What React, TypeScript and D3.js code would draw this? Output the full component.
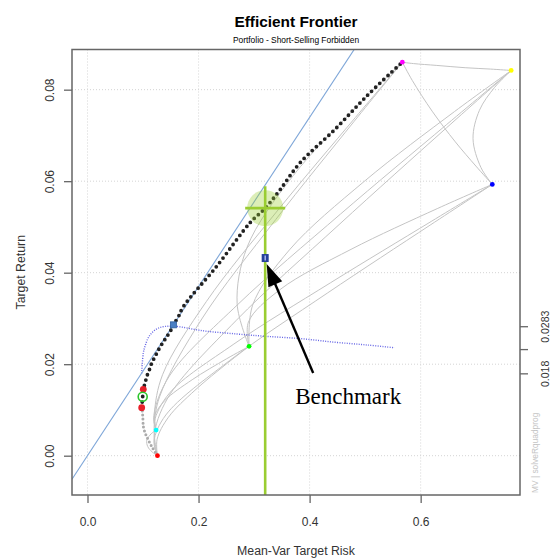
import React, { useEffect, useRef } from 'react';
import * as d3 from 'd3';

const WIDTH = 555;
const HEIGHT = 558;

// single assets (risk, return) - rainbow(6) colours
const assetColors = ['#ff0000', '#ffff00', '#00ff00', '#00ffff', '#0000ff', '#ff00ff'];
const assetRisk = [0.126, 0.763, 0.291, 0.1236, 0.729, 0.567];
const assetReturn = [0.0, 0.0842, 0.0239, 0.0056, 0.0593, 0.086];

// efficient frontier (black dots)
const frontierRisk = [0.0976, 0.0994, 0.1005, 0.1038, 0.1068, 0.1115, 0.1158, 0.1218, 0.1277, 0.1356, 0.1428, 0.1505, 0.1547, 0.1637, 0.1727, 0.2327, 0.2926, 0.32, 0.3466, 0.3826, 0.4455, 0.502, 0.5588, 0.567];
const frontierReturn = [0.0105, 0.0129, 0.0145, 0.0159, 0.0173, 0.0188, 0.0203, 0.0217, 0.0231, 0.0247, 0.026, 0.0275, 0.0286, 0.0304, 0.0326, 0.0414, 0.0509, 0.0541, 0.0581, 0.064, 0.0713, 0.0785, 0.0851, 0.086];

// inefficient part (grey dots)
const lowerRisk = [0.126, 0.1158, 0.1097, 0.1038, 0.1007, 0.0996, 0.0984, 0.0976];
const lowerReturn = [0.0, 0.002, 0.0034, 0.005, 0.0063, 0.0085, 0.01, 0.0105];

// sharpe ratio line, drawn on the return scale
const sharpeRisk = [0.0976, 0.1005, 0.1038, 0.1115, 0.1277, 0.1547, 0.208, 0.269, 0.32, 0.383, 0.4455, 0.503, 0.553];
const sharpeValue = [0.018, 0.0224, 0.024, 0.0262, 0.0279, 0.0283, 0.0273, 0.0266, 0.0261, 0.0256, 0.0248, 0.0242, 0.0236];

// two assets lines: asset pairs and the waypoints between them
const pairs = [[0, 1], [0, 2], [0, 3], [0, 4], [0, 5], [2, 1], [3, 1], [1, 4], [1, 5], [3, 2], [2, 4], [2, 5], [3, 4], [3, 5], [4, 5]];
const pairWaypoints = [
  [[0.12, 0.0042], [0.1445, 0.0126], [0.2673, 0.0295], [0.453, 0.0505], [0.646, 0.0716]],
  [[0.1254, 0.0036], [0.1458, 0.0084], [0.1935, 0.0143], [0.2527, 0.0203]],
  [[0.1166, 0.0008], [0.1085, 0.002], [0.1068, 0.0034], [0.1148, 0.0048]],
  [[0.1198, 0.0031], [0.1411, 0.0089], [0.256, 0.0208], [0.4327, 0.0356], [0.6171, 0.0504]],
  [[0.1199, 0.0056], [0.1299, 0.0129], [0.207, 0.0301], [0.3389, 0.0516], [0.4804, 0.0731]],
  [[0.2974, 0.0329], [0.3638, 0.045], [0.4998, 0.0601], [0.6608, 0.0752]],
  [[0.1195, 0.0088], [0.1474, 0.0174], [0.2711, 0.0331], [0.4555, 0.0528], [0.647, 0.0724]],
  [[0.7332, 0.0805], [0.7059, 0.0755], [0.6943, 0.0693], [0.7085, 0.063]],
  [[0.726, 0.0845], [0.6801, 0.0848], [0.6291, 0.0853], [0.5871, 0.0857]],
  [[0.1197, 0.0083], [0.1389, 0.012], [0.1885, 0.0166], [0.2508, 0.0212]],
  [[0.2898, 0.0292], [0.3467, 0.0363], [0.4746, 0.0451], [0.6298, 0.054]],
  [[0.2695, 0.0332], [0.2875, 0.0456], [0.3704, 0.0612], [0.4883, 0.0767]],
  [[0.1207, 0.0075], [0.1478, 0.0137], [0.2636, 0.0244], [0.4377, 0.0378], [0.619, 0.0512]],
  [[0.1208, 0.0093], [0.1352, 0.0177], [0.2141, 0.0337], [0.3438, 0.0538], [0.4823, 0.0739]],
  [[0.6995, 0.0633], [0.6624, 0.0686], [0.6207, 0.0753], [0.585, 0.082]],
];

const xTicks = [0, 0.2, 0.4, 0.6];
const yTicks = [0, 0.02, 0.04, 0.06, 0.08];
const sharpeTicks = [0.0283, 0.0233, 0.018];
const sharpeTickLabels = ['0.0283', '', '0.018'];

const minVarPoints = [[0.0976, 0.0105], [0.1005, 0.0145]];
const circlePoint = [0.0994, 0.0129];
const tangencyPoint = [0.1547, 0.0286];
const riskFree = 0;
const benchmark = [0.32, 0.0432];
const targetPoint = [0.32, 0.0541];

const SANS = 'Liberation Sans, Arial, sans-serif';

const App = () => {
  const ref = useRef<SVGSVGElement>(null);

  useEffect(() => {
    const svg = d3.select(ref.current);
    svg.selectAll('*').remove();

    const margin = { top: 49.5, right: 35, bottom: 63, left: 72 };
    const x = d3.scaleLinear().domain([-0.0279, 0.7789]).range([margin.left, WIDTH - margin.right]);
    const y = d3.scaleLinear().domain([-0.00859, 0.08878]).range([HEIGHT - margin.bottom, margin.top]);
    const [x0, x1] = x.range();
    const [y0, y1] = y.range();

    svg.append('defs').append('clipPath').attr('id', 'plotClip')
      .append('rect').attr('x', x0).attr('y', y1).attr('width', x1 - x0).attr('height', y0 - y1);

    // grid
    const grid = svg.append('g');
    grid.selectAll('.gx').data(xTicks).join('line')
      .attr('x1', (d) => x(d)).attr('x2', (d) => x(d)).attr('y1', y1).attr('y2', y0)
      .attr('stroke', '#d4d4d4').attr('stroke-dasharray', '1 2');
    grid.selectAll('.gy').data(yTicks).join('line')
      .attr('x1', x0).attr('x2', x1).attr('y1', (d) => y(d)).attr('y2', (d) => y(d))
      .attr('stroke', '#d4d4d4').attr('stroke-dasharray', '1 2');

    const plot = svg.append('g').attr('clip-path', 'url(#plotClip)');

    const curve = d3.line<number[]>()
      .x((d) => x(d[0]))
      .y((d) => y(d[1]))
      .curve(d3.curveCatmullRom.alpha(0.5));

    // two assets lines
    pairs.forEach(([i, j], k) => {
      const pts = [[assetRisk[i], assetReturn[i]], ...pairWaypoints[k], [assetRisk[j], assetReturn[j]]];
      plot.append('path')
        .attr('d', curve(pts))
        .attr('fill', 'none')
        .attr('stroke', '#c4c4c4')
        .attr('stroke-width', 1);
    });

    // sharpe ratio line
    plot.append('path')
      .attr('d', curve(sharpeRisk.map((r, i) => [r, sharpeValue[i]])))
      .attr('fill', 'none')
      .attr('stroke', '#4b4be0')
      .attr('stroke-width', 1.4)
      .attr('stroke-dasharray', '1 1.4')
      .attr('opacity', 0.85);

    // capital market line
    const slope = (tangencyPoint[1] - riskFree) / tangencyPoint[0];
    const dom = x.domain();
    plot.append('line')
      .attr('x1', x(dom[0])).attr('y1', y(riskFree + slope * dom[0]))
      .attr('x2', x(dom[1])).attr('y2', y(riskFree + slope * dom[1]))
      .attr('stroke', '#7ea6d8')
      .attr('stroke-width', 1.1);

    // frontier
    plot.append('path')
      .attr('d', curve(lowerRisk.map((r, i) => [r, lowerReturn[i]])))
      .attr('fill', 'none')
      .attr('stroke', '#ababab')
      .attr('stroke-width', 3)
      .attr('stroke-linecap', 'round')
      .attr('stroke-dasharray', '0 4');

    plot.append('path')
      .attr('d', curve(frontierRisk.map((r, i) => [r, frontierReturn[i]])))
      .attr('fill', 'none')
      .attr('stroke', '#222')
      .attr('stroke-width', 3.8)
      .attr('stroke-linecap', 'round')
      .attr('stroke-dasharray', '0 5.6');

    // benchmark risk marker
    const tx = x(targetPoint[0]);
    const ty = y(targetPoint[1]);
    plot.append('circle')
      .attr('cx', tx).attr('cy', ty).attr('r', 18)
      .attr('fill', '#9acd32').attr('fill-opacity', 0.35);
    plot.append('line')
      .attr('x1', tx).attr('x2', tx).attr('y1', ty - 22).attr('y2', y0)
      .attr('stroke', '#9acd32').attr('stroke-width', 2.6);
    plot.append('line')
      .attr('x1', tx - 20).attr('x2', tx + 20).attr('y1', ty).attr('y2', ty)
      .attr('stroke', '#9acd32').attr('stroke-width', 2.6);

    // single assets
    plot.selectAll('.asset').data(assetRisk).join('circle')
      .attr('cx', (d) => x(d))
      .attr('cy', (d, i) => y(assetReturn[i]))
      .attr('r', 2.4)
      .attr('fill', (d, i) => assetColors[i]);

    // minimum variance / special points
    plot.selectAll('.mv').data(minVarPoints).join('circle')
      .attr('cx', (d) => x(d[0])).attr('cy', (d) => y(d[1]))
      .attr('r', 3.4).attr('fill', '#e8202a');
    plot.append('circle')
      .attr('cx', x(circlePoint[0])).attr('cy', y(circlePoint[1]))
      .attr('r', 4.5).attr('fill', 'none').attr('stroke', '#2bc52b').attr('stroke-width', 1.6);

    plot.append('rect')
      .attr('x', x(tangencyPoint[0]) - 3).attr('y', y(tangencyPoint[1]) - 3)
      .attr('width', 6).attr('height', 6)
      .attr('fill', '#4a7fc4').attr('stroke', '#2f5f9f').attr('stroke-width', 0.8);

    // benchmark
    const bx = x(benchmark[0]);
    const by = y(benchmark[1]);
    plot.append('rect')
      .attr('x', bx - 3.5).attr('y', by - 4).attr('width', 7).attr('height', 8)
      .attr('fill', '#24409a');
    plot.append('line')
      .attr('x1', bx).attr('x2', bx).attr('y1', by - 2.5).attr('y2', by + 2.5)
      .attr('stroke', '#c8d4ff').attr('stroke-width', 1.2);

    // annotation arrow
    const tip = [bx + 1.5, by + 6];
    const tail = [bx + 48, by + 115];
    const ang = Math.atan2(tip[1] - tail[1], tip[0] - tail[0]);
    const headLen = 22;
    const headW = 7.5;
    const base = [tip[0] - headLen * Math.cos(ang), tip[1] - headLen * Math.sin(ang)];
    const px = -Math.sin(ang);
    const py = Math.cos(ang);
    svg.append('line')
      .attr('x1', tail[0]).attr('y1', tail[1]).attr('x2', base[0] + 2 * Math.cos(ang)).attr('y2', base[1] + 2 * Math.sin(ang))
      .attr('stroke', '#000').attr('stroke-width', 2.4);
    svg.append('polygon')
      .attr('points', [
        tip,
        [base[0] + px * headW, base[1] + py * headW],
        [base[0] - px * headW, base[1] - py * headW],
      ].map((p) => p.join(',')).join(' '))
      .attr('fill', '#000');
    svg.append('text')
      .attr('x', bx + 30).attr('y', by + 146)
      .style('font-family', 'Liberation Serif, Times New Roman, serif')
      .style('font-size', '23px')
      .style('fill', '#000')
      .text('Benchmark');

    // frame
    svg.append('rect')
      .attr('x', x0).attr('y', y1).attr('width', x1 - x0).attr('height', y0 - y1)
      .attr('fill', 'none').attr('stroke', '#666').attr('stroke-width', 1.5);

    // axes
    const xAxis = svg.append('g')
      .attr('transform', `translate(0,${y0})`)
      .call(d3.axisBottom(x).tickValues(xTicks).tickSize(8).tickPadding(14).tickFormat(d3.format('.1f')));
    const yAxis = svg.append('g')
      .attr('transform', `translate(${x0},0)`)
      .call(d3.axisLeft(y).tickValues(yTicks).tickSize(8).tickFormat(d3.format('.2f')));
    const rAxis = svg.append('g')
      .attr('transform', `translate(${x1},0)`)
      .call(d3.axisRight(y).tickValues(sharpeTicks).tickSize(8).tickFormat((d, i) => sharpeTickLabels[i]));

    [xAxis, yAxis, rAxis].forEach((g) => {
      g.select('.domain').remove();
      g.selectAll('line').attr('stroke', '#666').attr('stroke-width', 1.3);
      g.selectAll('text').style('font-family', SANS).style('fill', '#333');
    });
    xAxis.selectAll('text').style('font-size', '12px');
    yAxis.selectAll('text')
      .style('font-size', '12px')
      .attr('x', 0).attr('dy', 0)
      .attr('text-anchor', 'middle')
      .attr('transform', 'translate(-17.7,0) rotate(-90)');
    rAxis.selectAll('text')
      .style('font-size', '10.5px')
      .attr('x', 0).attr('dy', 0)
      .attr('text-anchor', 'middle')
      .attr('transform', 'translate(28.8,0) rotate(-90)');

    // titles
    const cx = (x0 + x1) / 2;
    svg.append('text')
      .attr('x', cx).attr('y', 26.5)
      .attr('text-anchor', 'middle')
      .style('font-family', SANS).style('font-weight', 'bold').style('font-size', '15.4px')
      .text('Efficient Frontier');
    svg.append('text')
      .attr('x', cx).attr('y', 43)
      .attr('text-anchor', 'middle')
      .style('font-family', SANS).style('font-size', '8.4px')
      .text('Portfolio - Short-Selling Forbidden');
    svg.append('text')
      .attr('x', cx).attr('y', 554.5)
      .attr('text-anchor', 'middle')
      .style('font-family', SANS).style('font-size', '12.3px').style('fill', '#333')
      .text('Mean-Var Target Risk');
    svg.append('text')
      .attr('transform', `translate(25.3,${(y0 + y1) / 2}) rotate(-90)`)
      .attr('text-anchor', 'middle')
      .style('font-family', SANS).style('font-size', '12.3px').style('fill', '#333')
      .text('Target Return');
    svg.append('text')
      .attr('transform', `translate(538,${y0 - 2}) rotate(-90)`)
      .attr('text-anchor', 'start')
      .style('font-family', SANS).style('font-size', '8.4px').style('fill', '#c4c4c4')
      .text('MV | solveRquadprog');
  }, []);

  return (
    <svg
      ref={ref}
      width={WIDTH}
      height={HEIGHT}
      style={{ position: 'absolute', left: 0, top: 0, background: '#fff' }}
    />
  );
};

export default App;
